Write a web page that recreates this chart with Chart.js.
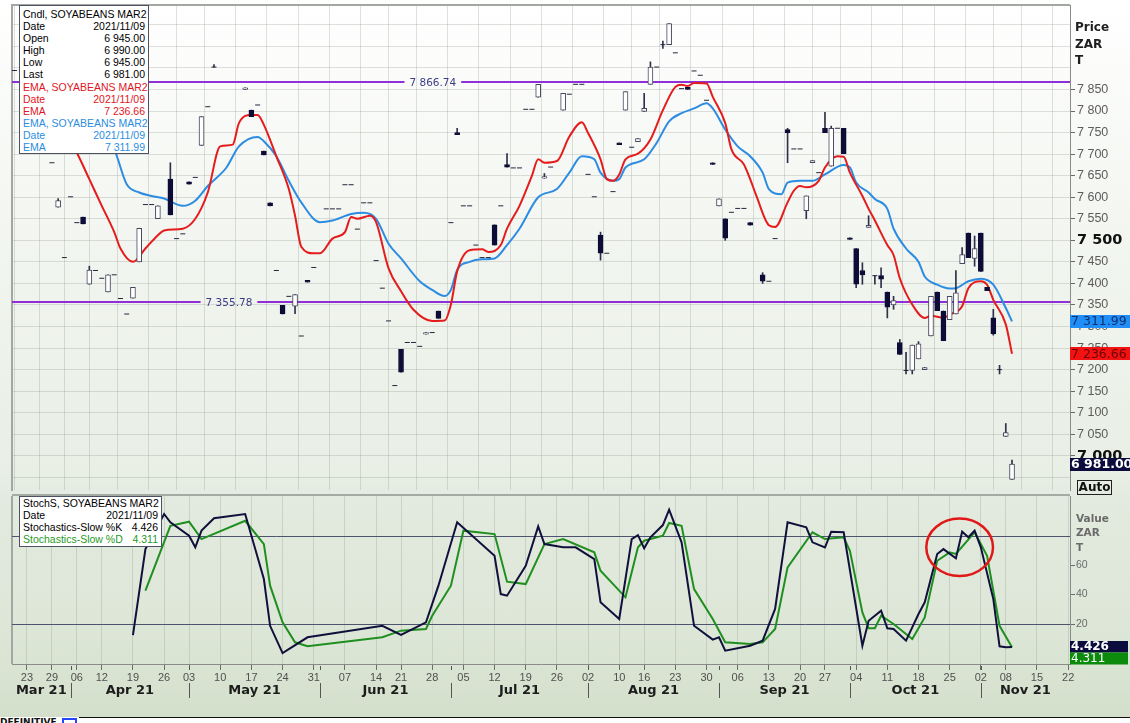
<!DOCTYPE html>
<html lang="en">
<head>
    <meta charset="utf-8">
    <title>SOYABEANS MAR2 - Candles, EMA, Stochastics</title>
    <script src="https://cdn.jsdelivr.net/npm/chart.js"></script>
    <style>
        body { margin: 0; }
        #page {
            position: relative; width: 1130px; height: 723px; overflow: hidden;
            background: linear-gradient(to bottom, #ffffff 0px, #f3f6f1 220px, #e9efe5 470px, #e3eadf 500px, #dce6d6 640px, #d3dfcb 716px);
            font-family: "Liberation Sans", Arial, sans-serif;
        }
        canvas { position: absolute; left: 0; }
        #priceChart { top: 0; }
        #stochChart { top: 495px; }
        .legend {
            position: absolute; background: #fff; border: 1px solid #4d5262;
            box-sizing: border-box; font-size: 10.5px; z-index: 2;
        }
        .legend div { display: flex; justify-content: space-between; white-space: nowrap; }
        #priceLegend { left: 19px; top: 5px; width: 130px; height: 149px; padding: 2px 3px 0 3px; line-height: 12.1px; }
        #stochLegend { left: 19px; top: 496px; width: 143px; height: 51px; padding: 1px 3px 0 3px; line-height: 11.9px; }
        .red { color: #e0161e; }
        .blue { color: #2b8de0; }
        .green { color: #1f9a1f; }
        .title { position: absolute; font-family: "DejaVu Sans", sans-serif; font-weight: bold; z-index: 2; }
        #priceTitle { left: 1075px; top: 19px; font-size: 12px; line-height: 16.5px; color: #1e1e1e; }
        #valueTitle { left: 1076px; top: 511px; font-size: 10.5px; line-height: 14.3px; color: #6a6a6a; }
        #autoBox {
            position: absolute; left: 1077px; top: 480px; width: 35px; height: 15px; box-sizing: border-box;
            border: 1px solid #222; font: bold 12px "DejaVu Sans", sans-serif; line-height: 13px; text-align: center; color: #111;
        }
        #sep { position: absolute; left: 12px; top: 494px; width: 1058px; height: 2px; background: #a5aaa3; }
        #strip { position: absolute; left: 0; top: 717px; width: 1130px; height: 6px; background: #fff; }
        #stripLine { position: absolute; left: 79px; top: 717px; width: 1051px; height: 1px; background: #111; }
        #stripBox { position: absolute; left: 62px; top: 718px; width: 15px; height: 6px; box-sizing: border-box; border: 2px solid #2446ff; border-bottom: none; }
        #stripText { position: absolute; left: 0; top: 717px; height: 6px; overflow: hidden; font: bold 9px "DejaVu Sans", sans-serif; line-height: 10px; color: #111; }
    </style>
</head>
<body>
<div id="page">
    <canvas id="priceChart" width="1130" height="495"></canvas>
    <canvas id="stochChart" width="1130" height="228"></canvas>
    <div id="sep"></div>

    <div class="legend" id="priceLegend">
        <div><span>Cndl, SOYABEANS MAR2</span></div>
        <div><span>Date</span><span>2021/11/09</span></div>
        <div><span>Open</span><span>6 945.00</span></div>
        <div><span>High</span><span>6 990.00</span></div>
        <div><span>Low</span><span>6 945.00</span></div>
        <div><span>Last</span><span>6 981.00</span></div>
        <div class="red"><span>EMA, SOYABEANS MAR2</span></div>
        <div class="red"><span>Date</span><span>2021/11/09</span></div>
        <div class="red"><span>EMA</span><span>7 236.66</span></div>
        <div class="blue"><span>EMA, SOYABEANS MAR2</span></div>
        <div class="blue"><span>Date</span><span>2021/11/09</span></div>
        <div class="blue"><span>EMA</span><span>7 311.99</span></div>
    </div>

    <div class="legend" id="stochLegend">
        <div><span>StochS, SOYABEANS MAR2</span></div>
        <div><span>Date</span><span>2021/11/09</span></div>
        <div><span>Stochastics-Slow %K</span><span>4.426</span></div>
        <div class="green"><span>Stochastics-Slow %D</span><span>4.311</span></div>
    </div>

    <div class="title" id="priceTitle">Price<br>ZAR<br>T</div>
    <div class="title" id="valueTitle">Value<br>ZAR<br>T</div>
    <div id="autoBox">Auto</div>

    <div id="strip"></div>
    <div id="stripLine"></div>
    <div id="stripBox"></div>
    <div id="stripText">DEFINITIVE</div>
</div>

<script>
    // x axis = trading-day number, 0 = 23 Mar 2021 (last candle 158 = 09 Nov 2021)
    var weekDays   = [0, 4, 8, 12, 17, 22, 26, 31, 36, 41, 46, 51, 56, 60, 65, 70, 75, 80, 85, 90, 95, 99, 104, 109, 114, 119, 124, 128, 133, 138, 143, 148, 153, 157, 162, 167];
    var weekLabels = ['23', '29', '06', '12', '19', '26', '03', '10', '17', '24', '31', '07', '14', '21', '28', '05', '12', '19', '26', '02', '10', '16', '23', '30', '06', '13', '20', '27', '04', '11', '18', '25', '02', '08', '15', '22'];
    var monthBreakDays = [7, 26, 47, 68, 90, 111, 132, 153];
    var monthLabels = ['Mar 21', 'Apr 21', 'May 21', 'Jun 21', 'Jul 21', 'Aug 21', 'Sep 21', 'Oct 21', 'Nov 21'];

    var priceTickValues = [6950, 7000, 7050, 7100, 7150, 7200, 7250, 7300, 7350, 7400, 7450, 7500, 7550, 7600, 7650, 7700, 7750, 7800, 7850, 7900, 7950, 8000];
    var priceTickLabels = ['', '7 000', '7 050', '7 100', '7 150', '7 200', '7 250', '7 300', '7 350', '7 400', '7 450', '7 500', '7 550', '7 600', '7 650', '7 700', '7 750', '7 800', '7 850', '', '', ''];
    var stochTickValues = [20, 40, 60];
    var stochTickLabels = ['20', '40', '60'];

    // candles (SOYABEANS MAR2)
    var candleDays = [
        -2, 4, 5, 6, 7, 8, 9, 10, 11, 12,
        13, 14, 15, 16, 17, 18, 19, 20, 21, 23,
        24, 25, 26, 27, 28, 29, 30, 35, 36, 37,
        38, 39, 40, 41, 42, 43, 44, 45, 46, 48,
        49, 50, 51, 52, 53, 54, 55, 56, 57, 58,
        59, 60, 61, 62, 63, 64, 65, 66, 68, 69,
        70, 71, 72, 73, 74, 75, 76, 77, 78, 79,
        80, 81, 82, 83, 84, 86, 87, 88, 89, 90,
        91, 92, 93, 94, 95, 96, 97, 98, 99, 100,
        101, 102, 103, 104, 105, 106, 107, 108, 109, 110,
        111, 112, 113, 114, 115, 116, 118, 119, 120, 122,
        123, 124, 125, 126, 127, 128, 129, 130, 131, 132,
        133, 134, 135, 136, 137, 138, 139, 140, 141, 142,
        143, 144, 145, 146, 147, 148, 149, 150, 151, 152,
        153, 154, 155, 156, 157, 158];
    var candleOpen = [
        7894, 7680, 7577, 7460, 7601, 7541, 7554, 7398, 7430, 7412,
        7380, 7420, 7365, 7329, 7366, 7450, 7583, 7583, 7550, 7642,
        7504, 7515, 7636, 7646, 7720, 7810, 7902, 7850, 7802, 7814,
        7707, 7587, 7430, 7349, 7370, 7347, 7278, 7407, 7437, 7573,
        7573, 7573, 7629, 7629, 7526, 7587, 7587, 7453, 7389, 7313,
        7163, 7247, 7263, 7263, 7254, 7282, 7286, 7336, 7541, 7750,
        7580, 7580, 7489, 7460, 7460, 7536, 7580, 7676, 7668, 7668,
        7804, 7804, 7832, 7644, 7670, 7802, 7839, 7862, 7862, 7653,
        7601, 7512, 7470, 7613, 7726, 7802, 7716, 7729, 7799, 7862,
        7902, 7954, 7954, 7935, 7852, 7855, 7893, 7883, 7825, 7680,
        7580, 7550, 7565, 7574, 7574, 7541, 7420, 7405, 7504, 7757,
        7712, 7712, 7569, 7680, 7657, 7760, 7672, 7760, 7760, 7506,
        7481, 7430, 7530, 7418, 7418, 7380, 7350, 7263, 7198, 7198,
        7225, 7200, 7278, 7380, 7336, 7316, 7329, 7446, 7517, 7458,
        7517, 7391, 7320, 7200, 7045, 6945];
    var candleHigh = [
        7894, 7680, 7597, 7460, 7601, 7541, 7554, 7440, 7430, 7412,
        7420, 7420, 7365, 7329, 7391, 7528, 7583, 7583, 7580, 7680,
        7504, 7515, 7636, 7646, 7787, 7810, 7908, 7854, 7802, 7814,
        7707, 7587, 7430, 7349, 7370, 7374, 7278, 7407, 7437, 7573,
        7573, 7573, 7629, 7629, 7526, 7587, 7587, 7453, 7389, 7313,
        7163, 7247, 7263, 7263, 7254, 7286, 7286, 7336, 7541, 7760,
        7580, 7580, 7489, 7460, 7460, 7536, 7580, 7701, 7668, 7668,
        7804, 7804, 7862, 7655, 7670, 7841, 7839, 7862, 7862, 7653,
        7601, 7519, 7470, 7613, 7726, 7845, 7716, 7736, 7841, 7914,
        7902, 7962, 8003, 7935, 7852, 7855, 7893, 7883, 7825, 7680,
        7596, 7550, 7565, 7574, 7574, 7541, 7425, 7405, 7504, 7760,
        7712, 7712, 7603, 7685, 7657, 7797, 7765, 7760, 7760, 7506,
        7481, 7448, 7557, 7418, 7436, 7380, 7370, 7270, 7240, 7257,
        7265, 7205, 7370, 7380, 7336, 7370, 7430, 7483, 7517, 7510,
        7517, 7391, 7340, 7210, 7075, 6990];
    var candleLow = [
        7894, 7680, 7577, 7460, 7601, 7541, 7538, 7398, 7430, 7412,
        7380, 7420, 7365, 7329, 7366, 7450, 7583, 7583, 7550, 7559,
        7504, 7515, 7630, 7646, 7720, 7810, 7902, 7850, 7787, 7814,
        7698, 7580, 7430, 7329, 7370, 7330, 7278, 7403, 7437, 7573,
        7573, 7573, 7629, 7629, 7526, 7587, 7587, 7453, 7389, 7313,
        7163, 7194, 7263, 7263, 7254, 7282, 7286, 7319, 7541, 7745,
        7580, 7580, 7489, 7460, 7460, 7489, 7580, 7670, 7668, 7668,
        7804, 7804, 7832, 7644, 7670, 7802, 7839, 7862, 7862, 7653,
        7601, 7454, 7470, 7613, 7722, 7802, 7716, 7729, 7799, 7862,
        7902, 7945, 7954, 7935, 7852, 7850, 7893, 7883, 7825, 7676,
        7580, 7500, 7565, 7574, 7574, 7535, 7400, 7405, 7504, 7680,
        7712, 7712, 7550, 7680, 7657, 7750, 7672, 7760, 7701, 7502,
        7390, 7398, 7530, 7398, 7390, 7320, 7340, 7235, 7190, 7190,
        7225, 7200, 7278, 7337, 7267, 7316, 7329, 7446, 7460, 7440,
        7428, 7383, 7280, 7190, 7045, 6945];
    var candleClose = [
        7894, 7680, 7592, 7460, 7601, 7541, 7538, 7431, 7430, 7412,
        7420, 7420, 7365, 7329, 7391, 7528, 7583, 7583, 7580, 7559,
        7504, 7515, 7630, 7646, 7787, 7810, 7902, 7854, 7787, 7814,
        7698, 7580, 7430, 7329, 7370, 7374, 7278, 7403, 7437, 7573,
        7573, 7573, 7629, 7629, 7526, 7587, 7587, 7453, 7389, 7313,
        7163, 7194, 7263, 7263, 7254, 7286, 7286, 7319, 7541, 7745,
        7580, 7580, 7489, 7460, 7460, 7489, 7580, 7670, 7668, 7668,
        7804, 7804, 7862, 7648, 7670, 7841, 7839, 7862, 7862, 7653,
        7601, 7470, 7470, 7613, 7722, 7845, 7716, 7736, 7806, 7902,
        7902, 7954, 8003, 7935, 7852, 7850, 7893, 7883, 7825, 7676,
        7596, 7505, 7565, 7574, 7574, 7535, 7405, 7405, 7504, 7750,
        7712, 7712, 7603, 7685, 7657, 7750, 7760, 7760, 7701, 7502,
        7398, 7420, 7535, 7418, 7410, 7345, 7360, 7235, 7198, 7257,
        7260, 7205, 7370, 7337, 7267, 7370, 7378, 7467, 7460, 7481,
        7428, 7383, 7283, 7200, 7054, 6981];

    // EMA (red, fast)
    var emaFastDays = [5, 8, 10, 12, 14, 15, 17, 19, 21, 22, 25, 27, 29, 31, 33, 34, 36, 37, 38, 40,
        42, 43, 44, 46, 47, 49, 51, 52, 53, 55, 56, 58, 60, 62, 65, 67, 68, 69, 71, 73,
        74, 76, 77, 79, 81, 82, 83, 85, 87, 89, 90, 92, 93, 94, 95, 96, 98, 100, 102, 104,
        105, 106, 107, 109, 110, 112, 113, 115, 116, 117, 119, 120, 122, 123, 124, 125, 127, 128, 130, 131,
        132, 134, 135, 136, 138, 139, 140, 142, 144, 145, 147, 148, 150, 151, 153, 154, 155, 157, 158];
    var emaFast = [7780, 7703, 7642, 7580, 7519, 7481, 7450, 7481, 7512, 7523, 7527, 7550, 7611, 7718, 7722, 7772, 7791, 7791, 7768, 7695,
        7619, 7557, 7485, 7470, 7470, 7504, 7519, 7554, 7550, 7557, 7542, 7435, 7382, 7339, 7313, 7314, 7351, 7428, 7477, 7479,
        7473, 7489, 7527, 7580, 7650, 7688, 7680, 7684, 7741, 7774, 7749, 7688, 7642, 7638, 7653, 7688, 7701, 7734, 7802, 7856,
        7861, 7858, 7865, 7864, 7833, 7772, 7711, 7676, 7642, 7603, 7535, 7531, 7588, 7615, 7626, 7623, 7638, 7669, 7695, 7694,
        7657, 7603, 7573, 7546, 7489, 7466, 7412, 7351, 7320, 7325, 7320, 7328, 7347, 7389, 7405, 7397, 7362, 7305, 7236.66];

    // EMA (blue, slow)
    var emaSlowDays = [10, 14, 16, 18, 20, 22, 25, 27, 29, 32, 34, 37, 38, 40, 42, 44, 47, 49, 52, 54,
        56, 58, 60, 63, 65, 67, 68, 69, 71, 73, 75, 77, 79, 82, 85, 87, 89, 91, 92, 94,
        95, 96, 99, 101, 103, 105, 107, 109, 110, 112, 114, 116, 118, 119, 121, 122, 124, 126, 128, 131,
        132, 133, 135, 136, 138, 139, 141, 143, 144, 146, 148, 149, 151, 153, 155, 157, 158];
    var emaSlow = [7790, 7711, 7630, 7611, 7603, 7597, 7580, 7592, 7626, 7669, 7718, 7740, 7730, 7695, 7638, 7588, 7542, 7546, 7561, 7564,
        7550, 7492, 7458, 7405, 7385, 7371, 7385, 7431, 7450, 7456, 7458, 7489, 7527, 7600, 7619, 7657, 7695, 7688, 7657, 7638,
        7642, 7669, 7688, 7726, 7776, 7795, 7806, 7818, 7806, 7757, 7718, 7695, 7657, 7619, 7607, 7634, 7638, 7638, 7653, 7675,
        7669, 7634, 7611, 7596, 7573, 7527, 7481, 7450, 7416, 7397, 7388, 7389, 7405, 7411, 7397, 7343, 7311.99];

    var priceLevels = [7866.74, 7355.78];

    // Stochastics-Slow
    var stochKDays = [17, 19, 22, 23, 26, 27, 28, 30, 35, 36, 38, 39, 41, 45, 57, 60, 64, 66, 69, 75,
        76, 77, 80, 82, 83, 86, 88, 91, 92, 95, 97, 98, 99, 100, 102, 103, 105, 107, 110, 111,
        112, 116, 118, 120, 122, 125, 126, 128, 129, 131, 134, 135, 137, 138, 139, 141, 143, 144, 146, 147,
        149, 150, 151, 152, 153, 155, 156, 157, 158];
    var stochK = [12.5, 70.8, 94.6, 89, 79.9, 72, 83.3, 91.7, 94.6, 79.9, 50.5, 18.8, 0.3, 11, 18.8, 12.7, 21.1, 46, 89, 66.3,
        40.3, 39.2, 59.5, 86.2, 74.2, 72, 72, 64, 34.7, 23.4, 77.6, 80.3, 71.3, 78.8, 87.1, 97.5, 75.4, 18.8, 9.4, 11,
        1.9, 5.3, 8.7, 30.2, 89, 85.6, 75.4, 72, 82.6, 82.2, 5.3, 22.2, 29, 17.1, 16.6, 8.7, 26.8, 34.7, 67.5, 70.8,
        64.5, 82.6, 78.8, 83.3, 72, 36.9, 4.9, 4.2, 4.426];
    var stochDDays = [19, 23, 26, 28, 35, 38, 39, 41, 43, 45, 57, 60, 64, 65, 68, 70, 75, 77, 80, 83,
        86, 91, 92, 96, 98, 99, 102, 103, 105, 107, 110, 112, 116, 118, 120, 122, 126, 128, 131, 132,
        134, 135, 136, 137, 139, 142, 144, 146, 148, 149, 152, 154, 156, 158];
    var stochD = [42.6, 86.6, 89.4, 77.6, 90, 74.2, 46, 21.2, 7.6, 4.9, 11, 15.5, 16.6, 25.6, 46, 83.3, 81, 48.7, 47.1, 74.2,
        77.6, 68.6, 56.1, 38.1, 72, 76.5, 79.9, 88.5, 86.6, 43.7, 23.4, 7.6, 6.4, 7.6, 16.6, 58.4, 82.2, 77.6, 78.8, 69.7,
        27.9, 17.1, 17.1, 25.6, 20, 9.8, 24.5, 62.9, 68.6, 67.5, 82.2, 66.3, 18.8, 4.311];
    var stochLevels = [80, 20];

    // axis ranges
    var X_MIN = -2.4, X_MAX = 167.3;
    var PRICE_MIN = 6920.7, PRICE_MAX = 8046;
    var STOCH_MIN = -7.1, STOCH_MAX = 106.8;

    // where the level labels sit, and the red ring drawn on the stochastics
    var levelLabelDays = [65.1, 32.4];
    var ring = { day: 149.6, value: 72, dayRadius: 5.35, valueRadius: 19.5 };

    var GRID = 'rgba(140,146,138,0.28)';

    function fmt(v, dp) {
        var parts = v.toFixed(dp).split('.');
        return parts[0].replace(/\B(?=(\d{3})+$)/g, ' ') + (parts[1] ? '.' + parts[1] : '');
    }
    function pts(days, vals) {
        return days.map(function (d, i) { return { x: d, y: vals[i] }; });
    }
    // keep the plot area exactly where the layout padding puts it
    function noPad(s) {
        s.paddingTop = 0; s.paddingBottom = 0; s.paddingLeft = 0; s.paddingRight = 0;
    }

    // split candles into bodies, flat dashes and wicks
    var bodyPts = [], bodyFill = [], bodyEdge = [], flatPts = [], wickPts = [];
    candleDays.forEach(function (d, i) {
        var o = candleOpen[i], h = candleHigh[i], l = candleLow[i], c = candleClose[i];
        if (h > l) wickPts.push({ x: d, y: [l, h] });
        if (o === c) {
            flatPts.push({ x: d, y: c });
        } else {
            bodyPts.push({ x: d, y: [o, c] });
            bodyFill.push(c > o ? '#ffffff' : '#0c0c36');
            bodyEdge.push(c > o ? '#46465e' : '#0c0c36');
        }
    });

    Chart.defaults.font.family = '"Liberation Sans", Arial, sans-serif';

    var priceDecor = {
        id: 'priceDecor',
        beforeDatasetsDraw: function (chart) {
            var ctx = chart.ctx, a = chart.chartArea, x = chart.scales.x, y = chart.scales.y;
            ctx.save();
            ctx.strokeStyle = '#a3a7a1';
            ctx.lineWidth = 2;
            ctx.beginPath();
            ctx.moveTo(a.left, a.bottom + 1);
            ctx.lineTo(a.left, a.top);
            ctx.lineTo(a.right, a.top);
            ctx.stroke();

            ctx.font = '10.5px "DejaVu Sans"';
            ctx.textAlign = 'center';
            ctx.textBaseline = 'middle';
            priceLevels.forEach(function (v, i) {
                var py = Math.round(y.getPixelForValue(v));
                var label = fmt(v, 2);
                var cx = x.getPixelForValue(levelLabelDays[i]);
                var half = ctx.measureText(label).width / 2 + 5;
                ctx.strokeStyle = '#8f2fd8';
                ctx.lineWidth = 2;
                ctx.beginPath();
                ctx.moveTo(a.left, py);
                ctx.lineTo(cx - half, py);
                ctx.moveTo(cx + half, py);
                ctx.lineTo(a.right, py);
                ctx.stroke();
                ctx.fillStyle = '#3d3d86';
                ctx.fillText(label, cx, py + 1);
            });
            ctx.restore();
        },
        afterDraw: function (chart) {
            var ctx = chart.ctx, a = chart.chartArea, y = chart.scales.y;
            var boxes = [
                [emaSlow[emaSlow.length - 1], '#1f8ef6', '#14306f', 'normal'],
                [emaFast[emaFast.length - 1], '#f21212', '#6d0505', 'normal'],
                [candleClose[candleClose.length - 1], '#0b0b3d', '#ffffff', 'bold']
            ];
            ctx.save();
            ctx.textAlign = 'left';
            ctx.textBaseline = 'middle';
            boxes.forEach(function (b) {
                var cy = y.getPixelForValue(b[0]);
                ctx.fillStyle = b[1];
                ctx.fillRect(a.right, Math.round(cy - 6.5), chart.width - a.right, 13);
                ctx.fillStyle = b[2];
                ctx.font = b[3] + ' 12.5px "DejaVu Sans"';
                ctx.fillText(fmt(b[0], 2), a.right + 1, cy + 0.5);
            });
            ctx.restore();
        }
    };

    new Chart(document.getElementById('priceChart'), {
        type: 'line',
        data: {
            datasets: [
                { type: 'bar', data: bodyPts, backgroundColor: bodyFill, borderColor: bodyEdge, borderWidth: 1,
                  borderSkipped: false, barThickness: 5, grouped: false, order: 0 },
                { type: 'line', data: flatPts, showLine: false, pointStyle: 'line', pointRadius: 2.5,
                  borderColor: '#26263e', pointBorderWidth: 1, order: 0 },
                { type: 'bar', data: wickPts, backgroundColor: '#30304a', barThickness: 1, grouped: false, order: 1 },
                { type: 'line', data: pts(emaFastDays, emaFast), borderColor: '#e41c1c', borderWidth: 2,
                  pointRadius: 0, cubicInterpolationMode: 'monotone', order: 2 },
                { type: 'line', data: pts(emaSlowDays, emaSlow), borderColor: '#2c8ce2', borderWidth: 2,
                  pointRadius: 0, cubicInterpolationMode: 'monotone', order: 3 }
            ]
        },
        options: {
            responsive: false, animation: false, events: [],
            layout: { padding: { left: 12, top: 4, right: 0, bottom: 1 } },
            plugins: { legend: { display: false }, tooltip: { enabled: false } },
            scales: {
                x: {
                    type: 'linear', min: X_MIN, max: X_MAX, offset: false,
                    afterBuildTicks: function (s) { s.ticks = weekDays.map(function (v) { return { value: v }; }); },
                    afterFit: function (s) { s.height = 0; noPad(s); },
                    ticks: { display: false },
                    grid: { color: GRID, drawTicks: false },
                    border: { display: false }
                },
                y: {
                    position: 'right', min: PRICE_MIN, max: PRICE_MAX,
                    afterBuildTicks: function (s) { s.ticks = priceTickValues.map(function (v) { return { value: v }; }); },
                    afterFit: function (s) { s.width = 60; noPad(s); },
                    ticks: {
                        callback: function (v, i) { return priceTickLabels[i]; },
                        padding: 2,
                        font: function (c) {
                            var v = c.tick && c.tick.value;
                            return (v === 7500 || v === 7000)
                                ? { family: '"DejaVu Sans"', size: 14.5, weight: 'bold' }
                                : { family: '"Liberation Sans"', size: 12.5 };
                        },
                        color: function (c) {
                            var v = c.tick && c.tick.value;
                            return (v === 7500 || v === 7000) ? '#111' : '#5c5c5c';
                        }
                    },
                    grid: {
                        color: GRID, tickLength: 5,
                        tickColor: function (c) { return (c.tick && c.tick.label) ? '#6a6a6a' : 'rgba(0,0,0,0)'; }
                    },
                    border: { color: '#8a8a8a' }
                }
            }
        },
        plugins: [priceDecor]
    });

    var stochDecor = {
        id: 'stochDecor',
        beforeDatasetsDraw: function (chart) {
            var ctx = chart.ctx, a = chart.chartArea, y = chart.scales.y;
            ctx.save();
            ctx.strokeStyle = '#a3a7a1';
            ctx.lineWidth = 2;
            ctx.beginPath();
            ctx.moveTo(a.left, a.top);
            ctx.lineTo(a.left, a.bottom);
            ctx.stroke();
            ctx.strokeStyle = '#4c5470';
            ctx.lineWidth = 1;
            stochLevels.forEach(function (v) {
                var py = Math.round(y.getPixelForValue(v)) + 0.5;
                ctx.beginPath();
                ctx.moveTo(a.left, py);
                ctx.lineTo(a.right, py);
                ctx.stroke();
            });
            ctx.restore();
        },
        afterDatasetsDraw: function (chart) {
            var ctx = chart.ctx, x = chart.scales.x, y = chart.scales.y;
            var cx = x.getPixelForValue(ring.day), cy = y.getPixelForValue(ring.value);
            var rx = x.getPixelForValue(ring.day + ring.dayRadius) - cx;
            var ry = cy - y.getPixelForValue(ring.value + ring.valueRadius);
            ctx.save();
            ctx.strokeStyle = '#e01818';
            ctx.lineWidth = 2.5;
            ctx.beginPath();
            ctx.ellipse(cx, cy, rx, ry, 0, 0, Math.PI * 2);
            ctx.stroke();
            ctx.restore();
        },
        afterDraw: function (chart) {
            var ctx = chart.ctx, a = chart.chartArea, x = chart.scales.x, y = chart.scales.y;
            var edges = [X_MIN].concat(monthBreakDays, [X_MAX]);
            ctx.save();
            // month row
            ctx.font = 'bold 13px "DejaVu Sans"';
            ctx.fillStyle = '#1c1c1c';
            ctx.textAlign = 'center';
            ctx.textBaseline = 'middle';
            monthLabels.forEach(function (m, i) {
                ctx.fillText(m, x.getPixelForValue((edges[i] + edges[i + 1]) / 2), a.bottom + 27);
            });
            ctx.strokeStyle = '#555';
            ctx.lineWidth = 1;
            monthBreakDays.forEach(function (d) {
                var px = Math.round(x.getPixelForValue(d)) + 0.5;
                ctx.beginPath();
                ctx.moveTo(px, a.bottom + 19);
                ctx.lineTo(px, a.bottom + 34);
                ctx.moveTo(px, a.bottom + 2);
                ctx.lineTo(px, a.bottom + 6);
                ctx.stroke();
            });
            // last values
            var kLast = stochK[stochK.length - 1], dLast = stochD[stochD.length - 1];
            var top = Math.round(y.getPixelForValue(kLast) - 5.5);
            ctx.textAlign = 'left';
            ctx.fillStyle = '#0b0b3d';
            ctx.fillRect(a.right, top, chart.width - a.right - 2, 11.5);
            ctx.fillStyle = '#0b8a0b';
            ctx.fillRect(a.right, top + 11.5, chart.width - a.right - 2, 12);
            ctx.fillStyle = '#ffffff';
            ctx.font = 'bold 12px "DejaVu Sans"';
            ctx.fillText(fmt(kLast, 3), a.right + 1, top + 6);
            ctx.font = '12px "DejaVu Sans"';
            ctx.fillText(fmt(dLast, 3), a.right + 1, top + 18);
            ctx.restore();
        }
    };

    new Chart(document.getElementById('stochChart'), {
        type: 'line',
        data: {
            datasets: [
                { data: pts(stochKDays, stochK), borderColor: '#10103c', borderWidth: 2, pointRadius: 0, tension: 0, order: 0 },
                { data: pts(stochDDays, stochD), borderColor: '#1f8f1f', borderWidth: 2, pointRadius: 0, tension: 0, order: 1 }
            ]
        },
        options: {
            responsive: false, animation: false, events: [],
            layout: { padding: { left: 12, top: 1, right: 0, bottom: 0 } },
            plugins: { legend: { display: false }, tooltip: { enabled: false } },
            scales: {
                x: {
                    type: 'linear', min: X_MIN, max: X_MAX, offset: false,
                    afterBuildTicks: function (s) { s.ticks = weekDays.map(function (v) { return { value: v }; }); },
                    afterFit: function (s) { s.height = 59; noPad(s); },
                    ticks: {
                        callback: function (v, i) { return weekLabels[i]; },
                        autoSkip: false, maxRotation: 0, padding: 1,
                        font: { size: 11 }, color: '#505050'
                    },
                    grid: { color: GRID, tickLength: 6, tickColor: '#6d6d6d' },
                    border: { color: '#8a8a8a' }
                },
                y: {
                    position: 'right', min: STOCH_MIN, max: STOCH_MAX,
                    afterBuildTicks: function (s) { s.ticks = stochTickValues.map(function (v) { return { value: v }; }); },
                    afterFit: function (s) { s.width = 60; noPad(s); },
                    ticks: {
                        callback: function (v, i) { return stochTickLabels[i]; },
                        padding: 1, font: { size: 10.5 }, color: '#6a6a6a'
                    },
                    grid: { drawOnChartArea: false, tickLength: 5, tickColor: '#6a6a6a' },
                    border: { color: '#8a8a8a' }
                }
            }
        },
        plugins: [stochDecor]
    });
</script>
</body>
</html>
